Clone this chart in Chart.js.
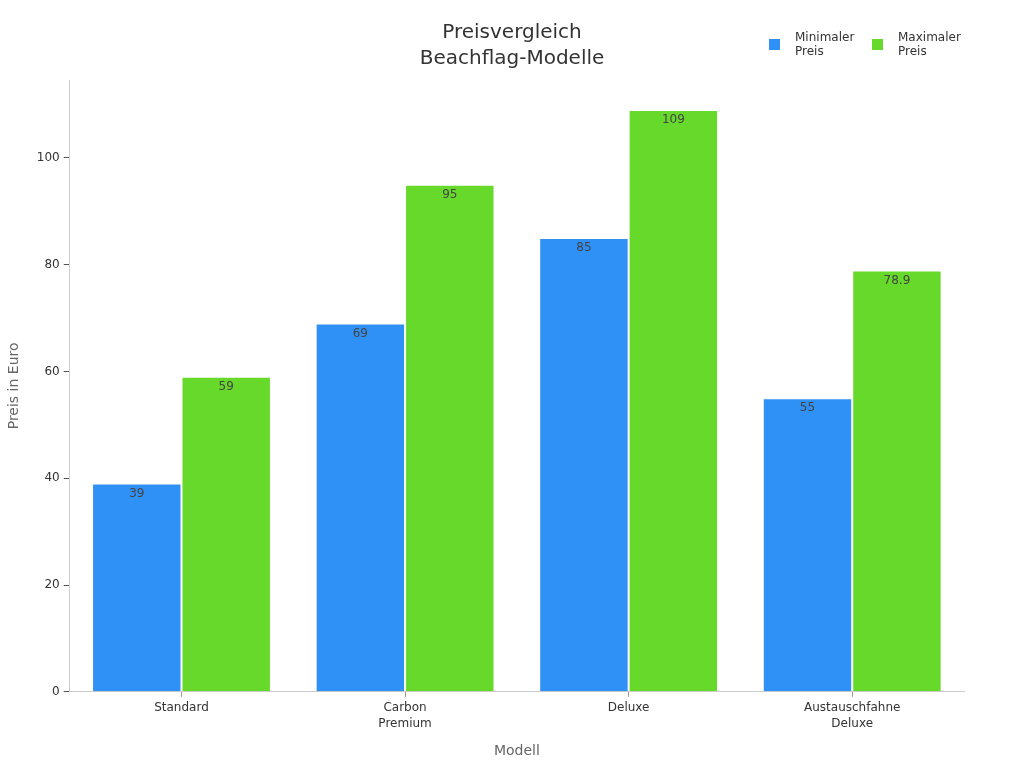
<!DOCTYPE html>
<html>
<head>
<meta charset="utf-8">
<script src="https://cdn.jsdelivr.net/npm/chart.js@4"></script>
<style>
  html, body { margin: 0; padding: 0; background: #fff; }
  #wrap { width: 1024px; height: 768px; }
</style>
</head>
<body>
<div id="wrap"><canvas id="chart" width="1024" height="768"></canvas></div>
<script>
const models = [['Standard'], ['Carbon', 'Premium'], ['Deluxe'], ['Austauschfahne', 'Deluxe']];
const minPrices = [39, 69, 85, 55];
const maxPrices = [59, 95, 109, 78.9];
const seriesNames = [['Minimaler', 'Preis'], ['Maximaler', 'Preis']];
const titleLines = ['Preisvergleich', 'Beachflag-Modelle'];
const yTicks = [0, 20, 40, 60, 80, 100];

const blue = '#2f91f5';
const green = '#66d92a';

Chart.defaults.font.family = 'DejaVu Sans';
Chart.defaults.color = '#333';

// values printed just inside the top of each bar
const barLabels = {
    id: 'barLabels',
    afterDatasetsDraw(chart) {
        const ctx = chart.ctx;
        ctx.save();
        ctx.font = '12px DejaVu Sans';
        ctx.fillStyle = '#444';
        ctx.textAlign = 'center';
        ctx.textBaseline = 'middle';
        chart.data.datasets.forEach((ds, i) => {
            chart.getDatasetMeta(i).data.forEach((bar, j) => {
                ctx.fillText(String(ds.data[j]), bar.x, bar.y + 10);
            });
        });
        ctx.restore();
    }
};

// two-line title centred on the page, legend at top right
const header = {
    id: 'header',
    afterDraw(chart) {
        const ctx = chart.ctx;
        ctx.save();
        ctx.textBaseline = 'middle';
        ctx.textAlign = 'center';
        ctx.font = '20px DejaVu Sans';
        ctx.fillStyle = '#333';
        titleLines.forEach((line, k) => {
            ctx.fillText(line, chart.width / 2, 33 + k * 26);
        });

        ctx.font = '12px DejaVu Sans';
        ctx.textAlign = 'left';
        let x = 769;
        chart.data.datasets.forEach((ds, i) => {
            ctx.fillStyle = ds.backgroundColor;
            ctx.fillRect(x, 39, 11, 11);
            ctx.fillStyle = '#333';
            seriesNames[i].forEach((line, k) => {
                ctx.fillText(line, x + 26, 38 + k * 14);
            });
            x += 103;
        });
        ctx.restore();
    }
};

new Chart(document.getElementById('chart'), {
    type: 'bar',
    data: {
        labels: models,
        datasets: [
            {
                label: seriesNames[0].join(' '),
                data: minPrices,
                backgroundColor: blue,
                borderColor: 'rgba(255,255,255,0.55)',
                borderWidth: 1,
                categoryPercentage: 0.8,
                barPercentage: 1.0
            },
            {
                label: seriesNames[1].join(' '),
                data: maxPrices,
                backgroundColor: green,
                borderColor: 'rgba(255,255,255,0.55)',
                borderWidth: 1,
                categoryPercentage: 0.8,
                barPercentage: 1.0
            }
        ]
    },
    options: {
        responsive: false,
        animation: false,
        devicePixelRatio: 1,
        layout: { padding: { left: 2, right: 60, top: 80, bottom: 4 } },
        plugins: {
            legend: { display: false },
            tooltip: { enabled: false },
            title: { display: false }
        },
        scales: {
            x: {
                grid: {
                    display: true,
                    drawOnChartArea: false,
                    offset: false,
                    tickLength: 5,
                    color: '#999'
                },
                border: { color: '#ccc' },
                ticks: { font: { size: 12, lineHeight: 1.35 }, color: '#333', padding: 3 },
                title: {
                    display: true,
                    text: 'Modell',
                    font: { size: 14 },
                    color: '#666',
                    padding: { top: 8 }
                }
            },
            y: {
                min: 0,
                max: 114.6,
                afterBuildTicks(scale) {
                    scale.ticks = yTicks.map(v => ({ value: v }));
                },
                grid: {
                    display: true,
                    drawOnChartArea: false,
                    tickLength: 6,
                    color: '#555'
                },
                border: { color: '#ccc' },
                ticks: { font: { size: 12 }, color: '#333', padding: 4 },
                title: {
                    display: true,
                    text: 'Preis in Euro',
                    font: { size: 14 },
                    color: '#666',
                    padding: { bottom: 10 }
                }
            }
        }
    },
    plugins: [barLabels, header]
});
</script>
</body>
</html>
